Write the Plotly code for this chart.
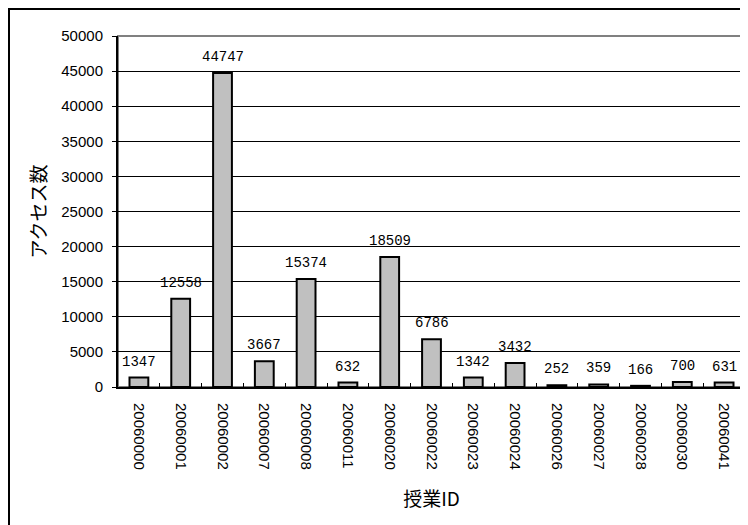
import plotly.graph_objects as go

class_ids = ["20060000", "20060001", "20060002", "20060007", "20060008", "20060011",
             "20060020", "20060022", "20060023", "20060024", "20060026", "20060027",
             "20060028", "20060030", "20060041"]
access_counts = [1347, 12558, 44747, 3667, 15374, 632, 18509, 6786, 1342, 3432,
                 252, 359, 166, 700, 631]
y_ticks = list(range(0, 50001, 5000))

# page is offset by the 8px default body margin
W, H = 740, 517
L, R, T, B = 110, 3, 28, 138
pw = W - L - R
ph = H - T - B

fig = go.Figure()
fig.add_trace(go.Bar(
    x=class_ids, y=access_counts,
    marker=dict(color="#c0c0c0", line=dict(color="black", width=2)),
    width=0.45,
    cliponaxis=False,
))

for i, v in enumerate(access_counts):
    fig.add_annotation(x=i, y=v, text=str(v), showarrow=False,
                       yanchor="bottom", yshift=6,
                       font=dict(family="Liberation Mono, DejaVu Sans Mono, monospace",
                                 size=14, color="black"))

# plot-area border (gray) and outer frame
fig.add_shape(type="rect", xref="paper", yref="paper", x0=0, x1=1, y0=0, y1=1,
              line=dict(color="#808080", width=2), layer="below")
fig.add_shape(type="rect", xref="paper", yref="paper",
              x0=(1 - L) / pw, x1=(W + 20 - L) / pw,
              y0=-(H + 20 - T - ph) / ph, y1=1 + (T - 1) / ph,
              line=dict(color="black", width=2))

fig.update_layout(
    width=W, height=H,
    margin=dict(l=L, r=R, t=T, b=B),
    paper_bgcolor="white", plot_bgcolor="white",
    showlegend=False,
    font=dict(family="Liberation Sans, Arial, sans-serif", size=15, color="black"),
    xaxis=dict(
        type="category",
        categoryorder="array", categoryarray=class_ids,
        range=[-0.5, len(class_ids) - 0.5],
        tickangle=90,
        ticks="inside", tickson="boundaries", ticklen=4, tickcolor="black",
        ticklabelstandoff=11,
        showline=True, linecolor="black", linewidth=2,
        showgrid=False, automargin=False,
        tickfont=dict(size=15),
        title=dict(text="授業ID", font=dict(family="Noto Sans CJK JP", size=19), standoff=24),
    ),
    yaxis=dict(
        range=[0, 50000], tickvals=y_ticks, tickformat="d",
        ticks="outside", ticklen=4, tickcolor="black",
        ticklabelstandoff=6,
        showline=True, linecolor="black", linewidth=2,
        showgrid=True, gridcolor="black", gridwidth=1,
        zeroline=False, automargin=False,
        tickfont=dict(size=15),
        title=dict(text="アクセス数", font=dict(family="Noto Sans CJK JP", size=19), standoff=10),
    ),
)

fig.write_html("out.html")
